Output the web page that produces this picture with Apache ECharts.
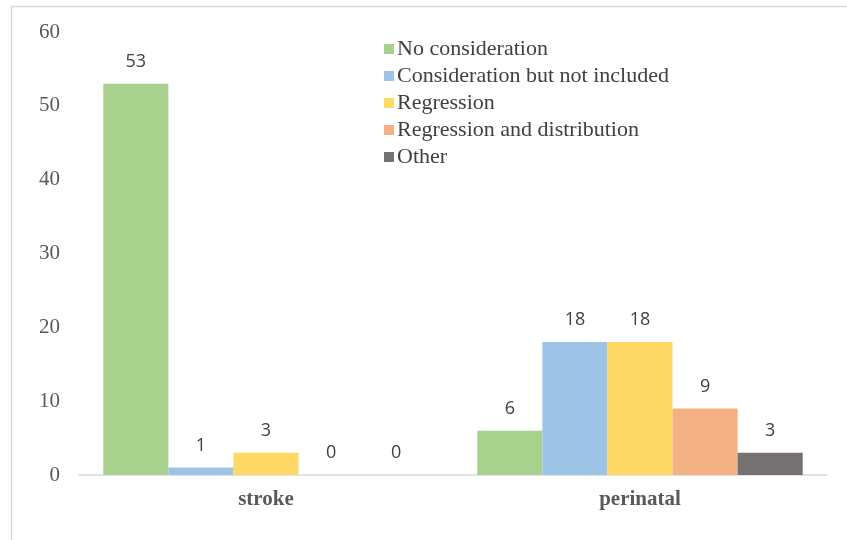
<!DOCTYPE html>
<html><head><meta charset="utf-8">
<script src="https://cdn.jsdelivr.net/npm/echarts@6/dist/echarts.min.js"></script>
<style>html,body{margin:0;padding:0;background:#fff}#c{width:847px;height:540px}</style>
</head><body><div id="c"></div>
<script>
var categories = ['stroke', 'perinatal'];
var seriesNames = ['No consideration', 'Consideration but not included', 'Regression', 'Regression and distribution', 'Other'];
var noConsideration = [53, 6];
var considerationNotIncluded = [1, 18];
var regression = [3, 18];
var regressionDistribution = [0, 9];
var other = [0, 3];
var yTicks = [0, 10, 20, 30, 40, 50, 60];
var colors = ['#A9D18E', '#9DC3E6', '#FFD966', '#F4B183', '#767171'];

var allData = [noConsideration, considerationNotIncluded, regression, regressionDistribution, other];
var chart = echarts.init(document.getElementById('c'));
var series = allData.map(function (d, i) {
  return {
    name: seriesNames[i], type: 'bar', data: d,
    barGap: '0%', barCategoryGap: '13%',
    itemStyle: { color: colors[i] },
    label: { show: true, position: 'top', distance: 13, color: '#404040',
      fontFamily: 'Open Sans', fontSize: 18 }
  };
});
chart.setOption({
  animation: false,
  color: colors,
  graphic: [{ type: 'rect', shape: { x: 11.5, y: 6.5, width: 900, height: 600 },
    style: { fill: 'none', stroke: '#d9d9d9', lineWidth: 1.5 }, silent: true }],
  grid: { left: 79, right: 20, top: 32, bottom: 65 },
  legend: {
    orient: 'vertical', left: 379, top: 33, itemGap: 5, itemWidth: 10, itemHeight: 10,
    icon: 'rect',
    textStyle: { fontFamily: 'Liberation Serif', fontSize: 22, color: '#404040', padding: [0, 0, 0, -2] },
    data: seriesNames
  },
  xAxis: {
    type: 'category', data: categories,
    axisLine: { lineStyle: { color: '#d9d9d9', width: 1.5 } },
    axisTick: { show: false },
    axisLabel: { margin: 14, fontFamily: 'Liberation Serif', fontWeight: 'bold', fontSize: 21, color: '#595959' }
  },
  yAxis: {
    type: 'value', min: yTicks[0], max: yTicks[yTicks.length - 1], interval: 10,
    axisLine: { show: false }, axisTick: { show: false }, splitLine: { show: false },
    axisLabel: { margin: 19, fontFamily: 'Liberation Serif', fontSize: 21, color: '#595959' }
  },
  series: series
});
</script></body></html>
